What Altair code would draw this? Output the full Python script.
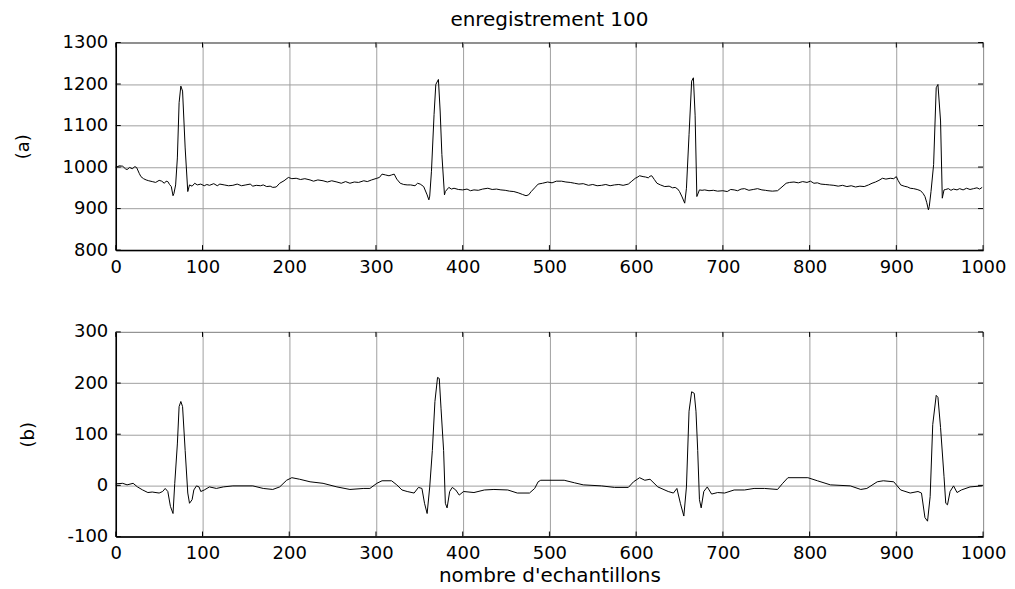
import altair as alt
import pandas as pd

# ---- data ----
a_x = [0, 4, 8, 11, 13, 16, 19, 22, 24, 27, 29, 32, 35, 38, 42, 46, 50, 53, 56, 58, 60, 62, 64, 66, 67, 69, 71, 73, 75, 77, 80, 83, 85, 88, 91, 94, 98, 102, 105, 108, 113, 117, 120, 125, 130, 135, 140, 145, 150, 155, 158, 162, 167, 170, 174, 178, 181, 185, 189, 194, 199, 203, 208, 213, 218, 224, 228, 233, 239, 244, 249, 255, 260, 265, 270, 275, 280, 286, 290, 295, 301, 304, 307, 311, 315, 318, 321, 324, 328, 332, 336, 340, 345, 348, 351, 355, 359, 361, 362, 364, 367, 369, 372, 374, 376, 379, 380, 384, 387, 390, 395, 400, 405, 409, 413, 418, 423, 429, 434, 439, 444, 449, 454, 459, 464, 469, 473, 476, 479, 483, 487, 492, 498, 503, 508, 514, 519, 524, 529, 534, 539, 545, 550, 555, 560, 565, 570, 575, 580, 585, 591, 595, 599, 601, 604, 608, 611, 614, 616, 618, 621, 624, 628, 633, 638, 642, 645, 648, 650, 653, 656, 658, 661, 664, 666, 668, 670, 673, 676, 679, 684, 689, 694, 700, 705, 709, 713, 717, 721, 725, 730, 735, 740, 745, 749, 752, 757, 763, 767, 773, 777, 782, 787, 792, 797, 801, 805, 809, 813, 818, 823, 828, 833, 838, 843, 848, 853, 858, 863, 868, 872, 876, 880, 884, 888, 893, 897, 900, 902, 905, 909, 913, 916, 920, 924, 928, 931, 933, 935, 937, 938, 940, 943, 946, 948, 951, 953, 955, 957, 960, 963, 966, 970, 973, 977, 981, 985, 989, 993, 996, 999]
a_y = [999, 1003, 1002, 996, 994, 999, 996, 1001, 999, 985, 977, 972, 969, 967, 965, 963, 968, 966, 961, 966, 965, 958, 953, 931, 936, 957, 1022, 1155, 1195, 1183, 1046, 941, 957, 954, 961, 957, 959, 955, 958, 956, 960, 955, 959, 957, 955, 956, 959, 955, 957, 959, 954, 956, 955, 957, 953, 954, 951, 952, 961, 967, 975, 972, 973, 970, 972, 969, 966, 969, 967, 964, 967, 964, 961, 965, 961, 964, 963, 967, 965, 969, 973, 975, 983, 981, 979, 981, 983, 971, 961, 958, 957, 957, 955, 961, 959, 953, 933, 921, 930, 990, 1127, 1199, 1211, 1135, 1030, 933, 941, 951, 947, 949, 946, 945, 947, 943, 945, 944, 947, 949, 946, 947, 945, 944, 942, 941, 938, 934, 931, 933, 941, 950, 959, 961, 964, 962, 966, 966, 964, 963, 961, 959, 960, 956, 958, 955, 956, 958, 955, 957, 958, 956, 959, 966, 973, 975, 979, 977, 976, 974, 978, 979, 970, 961, 957, 953, 954, 950, 951, 947, 941, 928, 913, 949, 1078, 1207, 1215, 1125, 929, 945, 944, 945, 943, 944, 942, 943, 941, 946, 945, 943, 947, 948, 944, 946, 948, 945, 944, 943, 942, 943, 950, 961, 963, 964, 962, 965, 963, 966, 961, 962, 959, 958, 957, 956, 954, 956, 953, 955, 952, 954, 953, 957, 961, 964, 968, 973, 971, 973, 972, 977, 968, 957, 954, 952, 949, 948, 946, 943, 936, 929, 915, 897, 905, 941, 1006, 1191, 1199, 1111, 925, 945, 946, 948, 944, 947, 945, 948, 945, 949, 946, 948, 950, 947, 951]

b_x = [0, 8, 13, 20, 25, 31, 37, 42, 50, 54, 57, 60, 63, 66, 68, 71, 73, 75, 77, 80, 83, 85, 88, 90, 93, 96, 98, 102, 108, 116, 124, 135, 158, 170, 181, 189, 197, 203, 212, 224, 239, 255, 270, 286, 293, 301, 307, 318, 324, 330, 336, 344, 349, 353, 356, 359, 362, 365, 368, 371, 373, 375, 378, 380, 382, 385, 388, 392, 396, 401, 413, 425, 436, 452, 463, 477, 483, 487, 490, 517, 529, 539, 560, 575, 591, 597, 604, 610, 616, 625, 637, 643, 647, 651, 655, 658, 661, 664, 667, 669, 671, 673, 675, 678, 682, 687, 694, 702, 713, 725, 736, 748, 763, 769, 775, 798, 809, 824, 847, 859, 866, 878, 885, 897, 905, 916, 925, 929, 933, 936, 939, 942, 946, 948, 951, 955, 957, 959, 962, 966, 970, 975, 985, 999]
b_y = [3, 4, 1, 4, -3, -9, -14, -13, -15, -12, -6, -12, -41, -55, 4, 81, 154, 164, 154, 68, -15, -35, -28, -9, -1, -3, -12, -9, -3, -6, -3, -1, -1, -6, -8, -3, 10, 15, 12, 7, 4, -3, -8, -6, -6, 4, 9, 9, 1, -9, -12, -15, -4, -6, -35, -55, -3, 68, 164, 211, 209, 151, 68, -35, -44, -12, -4, -9, -19, -12, -14, -9, -8, -9, -15, -15, -6, 7, 10, 10, 5, 1, -1, -4, -4, 7, 15, 10, 12, -3, -12, -15, -6, -35, -60, -3, 145, 183, 180, 145, 68, -28, -44, -12, -3, -17, -14, -15, -9, -9, -6, -6, -8, 4, 15, 15, 9, 1, -1, -8, -6, 7, 9, 7, -9, -15, -12, -15, -63, -70, -22, 119, 176, 172, 113, 17, -35, -38, -12, -1, -14, -9, -3, -1]

x_ticks = [0, 100, 200, 300, 400, 500, 600, 700, 800, 900, 1000]
a_ticks = [800, 900, 1000, 1100, 1200, 1300]
b_ticks = [-100, 0, 100, 200, 300]

title_text = "enregistrement 100"
xlabel_text = "nombre d'echantillons"

FONT = "DejaVu Sans"
W = 869
GRID = "#a0a0a0"
LABEL_EXPR = "'' + datum.value"


def panel(xs, ys, yticks, ylab, h, title_x, xtitle=None, title=None):
    df = pd.DataFrame({"x": xs, "y": ys})
    xs_ = alt.Scale(domain=[0, 1000], nice=False, zero=False)
    ys_ = alt.Scale(domain=[yticks[0], yticks[-1]], nice=False, zero=False)
    xkw = dict(values=x_ticks, grid=True, gridColor=GRID, ticks=False, labelPadding=8,
               domainColor="black", labelFlush=False, labelExpr=LABEL_EXPR)
    if xtitle:
        xkw["title"] = xtitle
        xkw["titlePadding"] = 3
        xkw["titleFontSize"] = 20
    else:
        xkw["title"] = ""
    ykw = dict(values=yticks, grid=True, gridColor=GRID, ticks=False, labelPadding=8,
               domainColor="black", title=ylab, titleX=title_x, titleY=h / 2,
               titleAngle=-90, titleAlign="center", titleBaseline="middle",
               labelFlush=False, labelExpr=LABEL_EXPR)
    line = alt.Chart(df).mark_line(color="black", strokeWidth=1).encode(
        x=alt.X("x:Q", scale=xs_, axis=alt.Axis(**xkw)),
        y=alt.Y("y:Q", scale=ys_, axis=alt.Axis(**ykw)),
    )
    tx = pd.DataFrame({"t": x_ticks})
    ty = pd.DataFrame({"t": yticks})
    tick_top = alt.Chart(tx).mark_rule(color="black").encode(
        x=alt.X("t:Q", scale=xs_), y=alt.value(0), y2=alt.value(5))
    tick_bot = alt.Chart(tx).mark_rule(color="black").encode(
        x=alt.X("t:Q", scale=xs_), y=alt.value(h - 5), y2=alt.value(h))
    tick_left = alt.Chart(ty).mark_rule(color="black").encode(
        y=alt.Y("t:Q", scale=ys_), x=alt.value(0), x2=alt.value(5))
    tick_right = alt.Chart(ty).mark_rule(color="black").encode(
        y=alt.Y("t:Q", scale=ys_), x=alt.value(W - 5), x2=alt.value(W))
    props = dict(width=W, height=h)
    if title:
        props["title"] = alt.TitleParams(title, font=FONT, fontSize=20, fontWeight="normal",
                                         offset=4, anchor="middle", color="black")
    return alt.layer(line, tick_top, tick_bot, tick_left, tick_right).properties(**props)


top = panel(a_x, a_y, a_ticks, "(a)", 208, -92, title=title_text)
bottom = panel(b_x, b_y, b_ticks, "(b)", 205, -87, xtitle=xlabel_text)

chart = alt.vconcat(top, bottom, spacing=45).properties(
    padding={"left": 6, "top": 0, "right": 0, "bottom": 0}
).configure(
    background="white"
).configure_view(
    stroke="black", strokeWidth=1
).configure_axis(
    labelFont=FONT, labelFontSize=18, labelColor="black",
    titleFont=FONT, titleFontSize=18, titleFontWeight="normal", titleColor="black",
    domainWidth=1.5
)

chart.save("out.html", embed_options={"renderer": "svg", "actions": False})
